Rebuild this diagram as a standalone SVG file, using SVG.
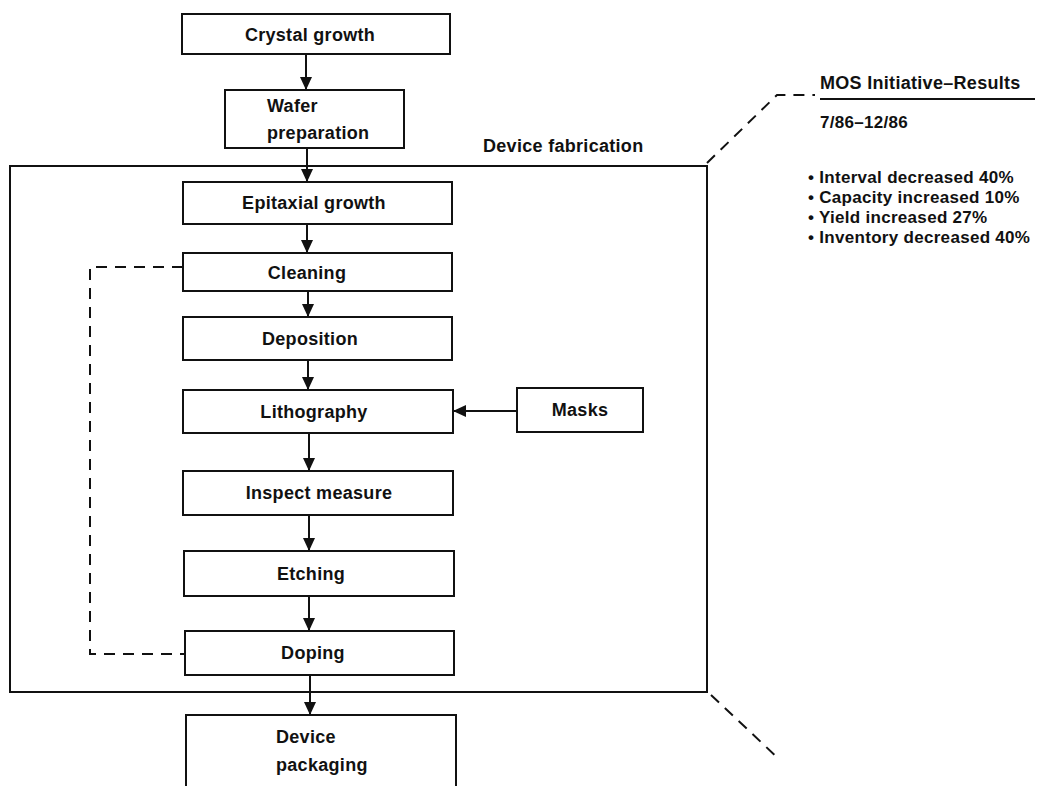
<svg xmlns="http://www.w3.org/2000/svg" width="1048" height="786" viewBox="0 0 1048 786">
  <style>
    .box { fill: #fff; stroke: #111; stroke-width: 2; }
    .frame { fill: none; stroke: #111; stroke-width: 2; }
    .lbl { font-family: "Liberation Sans", Arial, sans-serif; font-weight: bold; font-size: 18px; letter-spacing: 0.3px; fill: #111; }
    .list { font-size: 17px; }
    .mid { text-anchor: middle; }
    .flow { fill: none; stroke: #111; stroke-width: 2; }
    .dash { fill: none; stroke: #111; stroke-width: 2; stroke-dasharray: 11 8; }
  </style>
  <defs>
    <marker id="arrow" markerUnits="userSpaceOnUse" markerWidth="14" markerHeight="14" viewBox="0 0 14 14" refX="13" refY="7" orient="auto">
      <path d="M0,1 L13,7 L0,13 Z" fill="#111"/>
    </marker>
  </defs>

  <rect width="1048" height="786" fill="#fff"/>

  <!-- device fabrication frame -->
  <g id="device-fabrication">
    <rect class="frame" x="10" y="166" width="697" height="526"/>
    <text class="lbl" x="483" y="152">Device fabrication</text>
  </g>

  <g id="crystal-growth">
    <rect class="box" x="182" y="14" width="268" height="40"/>
    <text class="lbl mid" x="310" y="41">Crystal growth</text>
  </g>
  <g id="wafer-preparation">
    <rect class="box" x="225" y="90" width="179" height="58"/>
    <text class="lbl" x="267" y="112">Wafer</text>
    <text class="lbl" x="267" y="139">preparation</text>
  </g>
  <g id="epitaxial-growth">
    <rect class="box" x="183" y="182" width="269" height="42"/>
    <text class="lbl mid" x="314" y="209">Epitaxial growth</text>
  </g>
  <g id="cleaning">
    <rect class="box" x="183" y="253" width="269" height="38"/>
    <text class="lbl mid" x="307" y="279">Cleaning</text>
  </g>
  <g id="deposition">
    <rect class="box" x="183" y="317" width="269" height="43"/>
    <text class="lbl mid" x="310" y="345">Deposition</text>
  </g>
  <g id="lithography">
    <rect class="box" x="183" y="390" width="270" height="43"/>
    <text class="lbl mid" x="314" y="418">Lithography</text>
  </g>
  <g id="masks">
    <rect class="box" x="517" y="388" width="126" height="44"/>
    <text class="lbl mid" x="580" y="416">Masks</text>
  </g>
  <g id="inspect-measure">
    <rect class="box" x="183" y="471" width="270" height="44"/>
    <text class="lbl mid" x="319" y="499">Inspect measure</text>
  </g>
  <g id="etching">
    <rect class="box" x="184" y="551" width="270" height="45"/>
    <text class="lbl mid" x="311" y="580">Etching</text>
  </g>
  <g id="doping">
    <rect class="box" x="185" y="631" width="269" height="44"/>
    <text class="lbl mid" x="313" y="659">Doping</text>
  </g>
  <g id="device-packaging">
    <rect class="box" x="186" y="715" width="270" height="80"/>
    <text class="lbl" x="276" y="743">Device</text>
    <text class="lbl" x="276" y="771">packaging</text>
  </g>

  <!-- results callout -->
  <g id="mos-results">
    <text class="lbl" x="820" y="89">MOS Initiative–Results</text>
    <line x1="820" y1="99" x2="1035" y2="99" stroke="#111" stroke-width="2"/>
    <text class="lbl list" x="820" y="128">7/86–12/86</text>
    <text class="lbl list" x="808" y="183">• Interval decreased 40%</text>
    <text class="lbl list" x="808" y="203">• Capacity increased 10%</text>
    <text class="lbl list" x="808" y="223">• Yield increased 27%</text>
    <text class="lbl list" x="808" y="243">• Inventory decreased 40%</text>
  </g>

  <!-- connectors -->
  <g id="connectors">
    <line class="flow" x1="306" y1="54" x2="306" y2="90" marker-end="url(#arrow)"/>
    <line class="flow" x1="307" y1="148" x2="307" y2="182" marker-end="url(#arrow)"/>
    <line class="flow" x1="307" y1="224" x2="307" y2="253" marker-end="url(#arrow)"/>
    <line class="flow" x1="308" y1="291" x2="308" y2="317" marker-end="url(#arrow)"/>
    <line class="flow" x1="308" y1="360" x2="308" y2="390" marker-end="url(#arrow)"/>
    <line class="flow" x1="309" y1="433" x2="309" y2="471" marker-end="url(#arrow)"/>
    <line class="flow" x1="309" y1="515" x2="309" y2="551" marker-end="url(#arrow)"/>
    <line class="flow" x1="309" y1="596" x2="309" y2="631" marker-end="url(#arrow)"/>
    <line class="flow" x1="310" y1="675" x2="310" y2="715" marker-end="url(#arrow)"/>
    <line class="flow" x1="517" y1="411" x2="453" y2="411" marker-end="url(#arrow)"/>
    <path class="dash" d="M183,267 H90 V654 H185"/>
    <path class="dash" d="M707,163 L777,95 H815"/>
    <path class="dash" d="M711,695 L780,760"/>
  </g>
</svg>
